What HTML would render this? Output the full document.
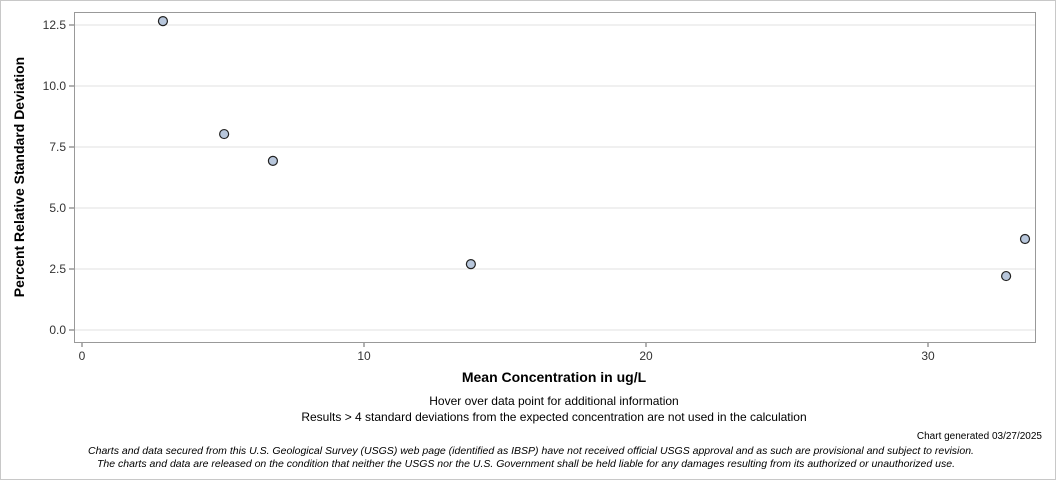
<!DOCTYPE html>
<html><head><meta charset="utf-8"><style>
body{margin:0;background:#fff;font-family:"Liberation Sans",sans-serif}
#wrap{position:relative;width:1056px;height:480px;box-sizing:border-box;border:1px solid #c8c8c8}
</style></head><body>
<div id="wrap">
<svg id="chart" width="1056" height="480" style="position:absolute;left:-1px;top:-1px"></svg>
</div>
<script>
const xValues=[2.87,5.04,6.77,13.79,32.77,33.44];
const yValues=[12.66,8.03,6.93,2.70,2.21,3.73];
const xTicks=[0,10,20,30];
const yTicks=[0,2.5,5,7.5,10,12.5];
const yTickLabels=["0.0","2.5","5.0","7.5","10.0","12.5"];
const NS="http://www.w3.org/2000/svg";
const svg=document.getElementById('chart');
const L=74,R=1035,T=12,B=342;
function sx(v){return 82+v*28.2;}
function sy(v){return 330-v*24.4;}
function mk(tag,attrs,text){const e=document.createElementNS(NS,tag);for(const k in attrs)e.setAttribute(k,attrs[k]);if(text!==undefined)e.textContent=text;svg.appendChild(e);return e;}
yTicks.forEach((t,i)=>{
 const g=mk('line',{x1:L,x2:R,y1:sy(t),y2:sy(t),stroke:'#e0e0e0'});
 
 
 const tk=mk('line',{x1:L-5,x2:L,y1:sy(t),y2:sy(t),stroke:'#666'});
 
 
 const lb=mk('text',{x:L-8,y:sy(t)+4,'text-anchor':'end','font-size':12,fill:'#333'},yTickLabels[i]);
 
 
});
xTicks.forEach(t=>{
 const tk=mk('line',{x1:sx(t),x2:sx(t),y1:B,y2:B+5,stroke:'#666'});
 
 
 const lb=mk('text',{x:sx(t),y:B+18,'text-anchor':'middle','font-size':12,fill:'#333'},String(t));
 
 
});
const fr=mk('rect',{x:L+0.5,y:T+0.5,width:R-L,height:B-T,fill:'none',stroke:'#999'});


xValues.forEach((x,i)=>{
 const c=mk('circle',{cx:sx(x),cy:sy(yValues[i]),r:4.5,fill:'#b8c7dc',stroke:'#222','stroke-width':1.2});
 
 
});
const yt=mk('text',{x:0,y:0,transform:'translate(24,177) rotate(-90)','text-anchor':'middle','font-size':14,'font-weight':'bold',fill:'#000'},'Percent Relative Standard Deviation');


const xt=mk('text',{x:554,y:382,'text-anchor':'middle','font-size':14,'font-weight':'bold',fill:'#000'},'Mean Concentration in ug/L');


const n1=mk('text',{x:554,y:405,'text-anchor':'middle','font-size':12,fill:'#000'},'Hover over data point for additional information');


const n2=mk('text',{x:554,y:421,'text-anchor':'middle','font-size':12,fill:'#000'},'Results > 4 standard deviations from the expected concentration are not used in the calculation');


const gd=mk('text',{x:1042,y:439,'text-anchor':'end','font-size':10,fill:'#000'},'Chart generated 03/27/2025');


const d1=mk('text',{x:531,y:454,'text-anchor':'middle','font-size':10.5,'font-style':'italic',fill:'#000'},'Charts and data secured from this U.S. Geological Survey (USGS) web page (identified as IBSP) have not received official USGS approval and as such are provisional and subject to revision.');


const d2=mk('text',{x:526,y:467,'text-anchor':'middle','font-size':10.5,'font-style':'italic',fill:'#000'},'The charts and data are released on the condition that neither the USGS nor the U.S. Government shall be held liable for any damages resulting from its authorized or unauthorized use.');


</script>
</body></html>
